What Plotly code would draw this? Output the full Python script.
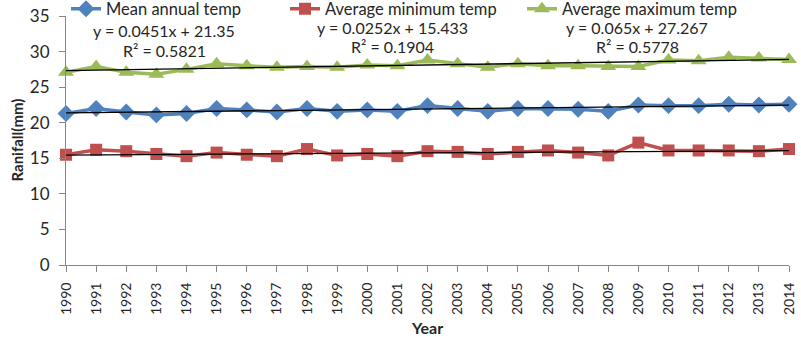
import plotly.graph_objects as go

years = list(range(1990, 2015))

mean_annual = [21.3, 22.0, 21.5, 21.1, 21.3, 22.0, 21.8, 21.5, 22.0, 21.6, 21.8, 21.6,
               22.4, 22.0, 21.6, 22.0, 22.0, 21.9, 21.6, 22.5, 22.4, 22.4, 22.6, 22.5, 22.6]
avg_min = [15.5, 16.2, 16.0, 15.6, 15.3, 15.8, 15.5, 15.3, 16.3, 15.4, 15.6, 15.3,
           16.0, 15.9, 15.6, 15.9, 16.1, 15.8, 15.4, 17.2, 16.1, 16.1, 16.1, 16.0, 16.3]
avg_max = [27.1, 27.9, 27.1, 26.8, 27.5, 28.3, 28.0, 27.8, 27.9, 27.8, 28.1, 28.0,
           28.8, 28.3, 27.8, 28.3, 28.0, 28.0, 27.9, 27.9, 28.8, 28.7, 29.2, 29.1, 28.9]

series_names = ["Mean annual temp", "Average minimum temp", "Average maximum temp"]
series_values = [mean_annual, avg_min, avg_max]
series_colors = ["#4F81BD", "#C0504D", "#9BBB59"]
series_symbols = ["diamond", "square", "triangle-up"]
marker_sizes = [13, 12, 14]

# linear trendline coefficients (x = 1..25)
trend_slopes = [0.0451, 0.0252, 0.065]
trend_intercepts = [21.35, 15.433, 27.267]
trend_labels = [("y = 0.0451x + 21.35", "R² = 0.5821"),
                ("y = 0.0252x + 15.433", "R² = 0.1904"),
                ("y = 0.065x + 27.267", "R² = 0.5778")]

y_ticks = [0, 5, 10, 15, 20, 25, 30, 35]

FONT = "Lato, 'Open Sans', sans-serif"
TXT = "#262626"

# plot area in pixels
L, R, T, B = 66, 789, 16, 265
W, H = R - L, B - T

fig = go.Figure()

legend_keys = ["legend", "legend2", "legend3"]
for name, vals, col, sym, ms, lg in zip(series_names, series_values, series_colors,
                                        series_symbols, marker_sizes, legend_keys):
    fig.add_trace(go.Scatter(
        x=years, y=vals, name=name, mode="lines+markers",
        line=dict(color=col, width=3.5),
        marker=dict(symbol=sym, size=ms, color=col),
        cliponaxis=False, legend=lg,
    ))

for slope, icpt in zip(trend_slopes, trend_intercepts):
    idx = list(range(1, len(years) + 1))
    fig.add_trace(go.Scatter(
        x=years, y=[slope * i + icpt for i in idx], mode="lines",
        line=dict(color="#000000", width=1.3), showlegend=False,
        hoverinfo="skip", cliponaxis=False,
    ))

# equation labels (centre x, first line y, second line y)
label_pos = [(164, 31, 50), (392, 27, 46), (637, 27, 46)]
annotations = []
for (eq, r2), (cx, y1, y2) in zip(trend_labels, label_pos):
    for txt, py in ((eq, y1), (r2, y2)):
        annotations.append(dict(
            text=txt, x=(cx - L) / W, y=(B - py) / H,
            xref="paper", yref="paper", xanchor="center", yanchor="middle",
            showarrow=False, font=dict(family=FONT, size=16, color=TXT),
        ))

# axis titles at fixed spots
annotations.append(dict(
    text="<b>Ranifall(mm)</b>", x=(16 - L) / W, y=0.5, xref="paper", yref="paper",
    xanchor="center", yanchor="middle", textangle=-90, showarrow=False,
    font=dict(family=FONT, size=15, color=TXT),
))
annotations.append(dict(
    text="<b>Year</b>", x=(427 - L) / W, y=(B - 327) / H, xref="paper", yref="paper",
    xanchor="center", yanchor="middle", showarrow=False,
    font=dict(family=FONT, size=16, color=TXT),
))

legend_common = dict(orientation="h", yanchor="middle", xanchor="left",
                     font=dict(family=FONT, size=16.5, color=TXT),
                     bgcolor="rgba(0,0,0,0)", borderwidth=0,
                     itemwidth=30, tracegroupgap=0)
lg_x = [70, 289, 526]

layout_legends = {}
for key, px in zip(legend_keys, lg_x):
    layout_legends[key] = dict(legend_common, x=(px - L - 4) / W, y=(B - 9) / H)

fig.update_layout(
    width=801, height=337,
    margin=dict(l=L, r=801 - R, t=T, b=337 - B, autoexpand=False),
    paper_bgcolor="white", plot_bgcolor="white",
    font=dict(family=FONT, color=TXT),
    annotations=annotations,
    **layout_legends,
    xaxis=dict(
        range=[1990, 2014], tickvals=years, ticktext=[str(y) for y in years],
        tickangle=-90, tickfont=dict(family=FONT, size=14, color=TXT),
        showline=True, linecolor="#868686", linewidth=1,
        ticks="outside", ticklen=6, tickcolor="#868686",
        ticklabelstandoff=5,
        showgrid=False, zeroline=False,
    ),
    yaxis=dict(
        range=[0, 35], tickvals=y_ticks,
        tickfont=dict(family=FONT, size=17, color=TXT),
        showline=True, linecolor="#868686", linewidth=1,
        ticks="outside", ticklen=6, tickcolor="#868686",
        ticklabelstandoff=6,
        showgrid=False, zeroline=False,
    ),
)

fig.write_html("out.html")
